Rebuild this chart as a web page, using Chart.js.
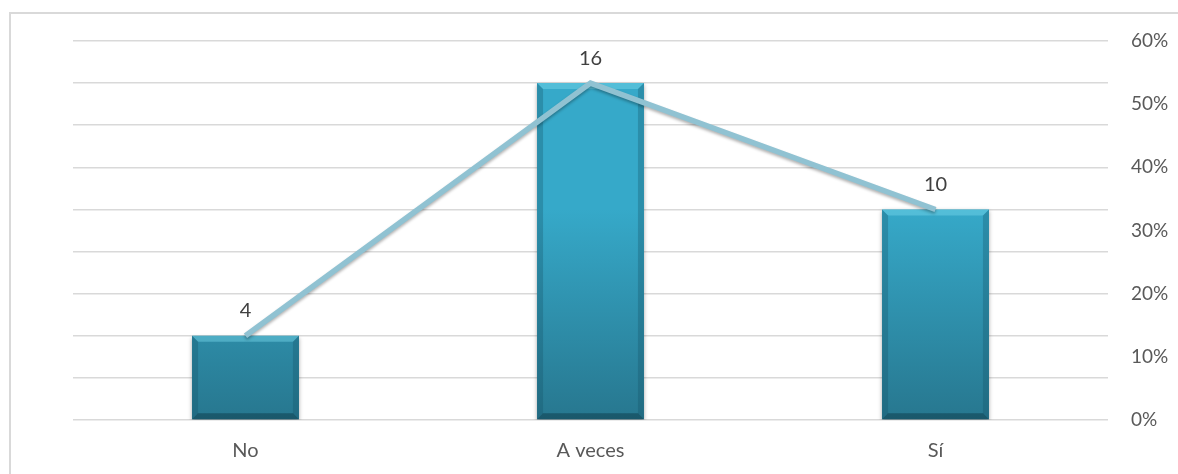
<!DOCTYPE html>
<html>
<head>
<meta charset="utf-8">
<script src="https://cdn.jsdelivr.net/npm/chart.js@4.4.1/dist/chart.umd.min.js"></script>
<style>
  html, body { margin: 0; padding: 0; background: #fff; overflow: hidden; }
  #wrap { position: relative; width: 1178px; height: 474px; }
  #frame { position: absolute; left: 9px; top: 12px; width: 1200px; height: 500px; border: 2px solid #d9d9d9; box-sizing: border-box; }
  canvas { position: absolute; left: 0; top: 0; }
</style>
</head>
<body>
<div id="wrap">
  <div id="frame"></div>
  <canvas id="chart" width="1178" height="474"></canvas>
</div>
<script>
// categories and values
const categories = ['No', 'A veces', 'Sí'];
const counts = [4, 16, 10];
const shares = [0.1333, 0.5333, 0.3333];

const font = "Lato, 'Open Sans', sans-serif";

// per-bar vertical gradient + small bevel, using the bar elements' own positions
const barLook = {
    id: 'barLook',
    beforeDatasetDraw(chart, args) {
        if (args.index !== 0) return;
        const ctx = chart.ctx;
        args.meta.data.forEach(el => {
            const g = ctx.createLinearGradient(0, el.y, 0, el.base);
            g.addColorStop(0, '#36a9c9');
            g.addColorStop(1, '#27778f');
            el.options.backgroundColor = g;
        });
        // soft shadow below bars
        ctx.save();
        ctx.shadowColor = 'rgba(0,0,0,0.35)';
        ctx.shadowBlur = 4;
        ctx.shadowOffsetY = 2;
    },
    afterDatasetDraw(chart, args) {
        if (args.index !== 0) return;
        const ctx = chart.ctx;
        ctx.restore();
        args.meta.data.forEach(el => {
            const l = el.x - el.width / 2, r = el.x + el.width / 2;
            const t = el.y, b = el.base, e = 6;
            ctx.save();
            // top highlight
            ctx.fillStyle = 'rgba(120,215,235,0.45)';
            ctx.beginPath();
            ctx.moveTo(l, t); ctx.lineTo(r, t); ctx.lineTo(r - e, t + e); ctx.lineTo(l + e, t + e);
            ctx.fill();
            // sides
            ctx.fillStyle = 'rgba(20,80,100,0.3)';
            ctx.beginPath();
            ctx.moveTo(l, t); ctx.lineTo(l + e, t + e); ctx.lineTo(l + e, b - e); ctx.lineTo(l, b);
            ctx.fill();
            ctx.beginPath();
            ctx.moveTo(r, t); ctx.lineTo(r - e, t + e); ctx.lineTo(r - e, b - e); ctx.lineTo(r, b);
            ctx.fill();
            // bottom
            ctx.fillStyle = 'rgba(10,50,65,0.45)';
            ctx.beginPath();
            ctx.moveTo(l, b); ctx.lineTo(l + e, b - e); ctx.lineTo(r - e, b - e); ctx.lineTo(r, b);
            ctx.fill();
            ctx.restore();
        });
    }
};

// shadow under the percentage line
const lineShadow = {
    id: 'lineShadow',
    beforeDatasetDraw(chart, args) {
        if (args.index !== 1) return;
        const ctx = chart.ctx;
        ctx.save();
        ctx.shadowColor = 'rgba(0,0,0,0.3)';
        ctx.shadowBlur = 3;
        ctx.shadowOffsetY = 2;
    },
    afterDatasetDraw(chart, args) {
        if (args.index !== 1) return;
        chart.ctx.restore();
    }
};

// count labels above bars
const barLabels = {
    id: 'barLabels',
    afterDatasetsDraw(chart) {
        const ctx = chart.ctx;
        const meta = chart.getDatasetMeta(0);
        ctx.save();
        ctx.font = '20px ' + font;
        ctx.fillStyle = '#404040';
        ctx.textAlign = 'center';
        ctx.textBaseline = 'middle';
        meta.data.forEach((el, i) => {
            ctx.fillText(String(counts[i]), el.x, el.y - 25);
        });
        ctx.restore();
    }
};

new Chart(document.getElementById('chart'), {
    data: {
        labels: categories,
        datasets: [{
            type: 'bar',
            label: 'Frecuencia',
            data: counts,
            yAxisID: 'y',
            backgroundColor: '#2e95b3',
            borderWidth: 0,
            barPercentage: 0.31,
            categoryPercentage: 1,
            order: 1
        }, {
            type: 'line',
            label: 'Porcentaje',
            data: shares,
            yAxisID: 'y1',
            borderColor: '#90c2d2',
            borderWidth: 5.5,
            pointRadius: 0,
            tension: 0,
            fill: false,
            order: 0
        }]
    },
    options: {
        responsive: false,
        animation: false,
        layout: { padding: { left: 73, top: 41, right: 0, bottom: 0 } },
        plugins: {
            legend: { display: false },
            tooltip: { enabled: false }
        },
        scales: {
            x: {
                grid: { display: false, drawTicks: false },
                border: { display: false },
                ticks: { color: '#595959', font: { family: font, size: 20 }, padding: 19 },
                afterFit: s => { s.height = 54; }
            },
            y: {
                position: 'left',
                min: 0,
                max: 18,
                ticks: { stepSize: 2, display: false },
                grid: { color: '#d9d9d9', lineWidth: 1.5, drawTicks: false },
                border: { display: false },
                afterFit: s => { s.width = 0; }
            },
            y1: {
                position: 'right',
                min: 0,
                max: 0.6,
                ticks: {
                    stepSize: 0.1,
                    color: '#595959',
                    font: { family: font, size: 19 },
                    padding: 23,
                    callback: v => Math.round(v * 100) + '%'
                },
                grid: { display: false, drawTicks: false },
                border: { display: false },
                afterFit: s => { s.width = 70; }
            }
        }
    },
    plugins: [barLook, lineShadow, barLabels]
});
</script>
</body>
</html>
